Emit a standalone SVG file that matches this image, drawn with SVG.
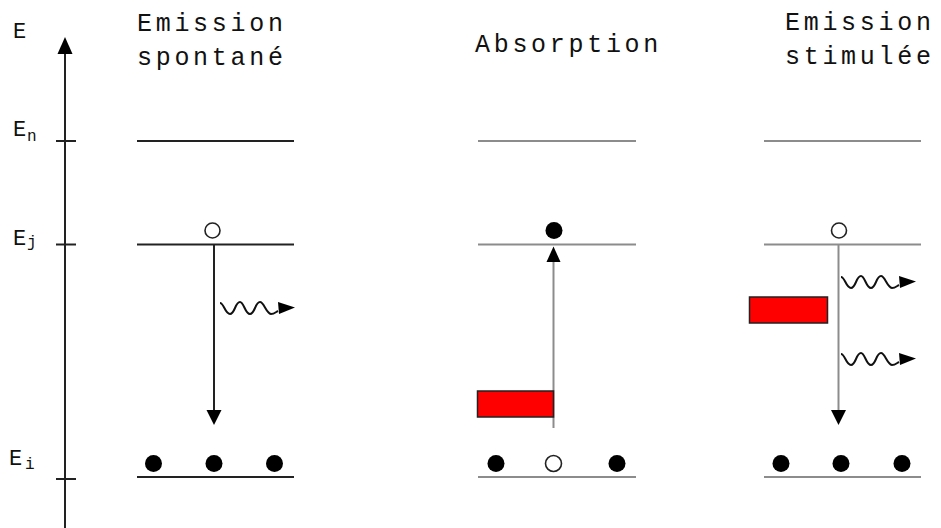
<svg xmlns="http://www.w3.org/2000/svg" width="941" height="528" viewBox="0 0 941 528">
<defs>
<style>
.t{font-family:"Liberation Mono","DejaVu Sans Mono",monospace;font-size:25px;fill:#111;letter-spacing:3.7px}
.lab{font-family:"Liberation Mono","DejaVu Sans Mono",monospace;font-size:22px;fill:#111}
.sub{font-family:"Liberation Mono","DejaVu Sans Mono",monospace;font-size:16px;fill:#111}
.dk{stroke:#222;stroke-width:2;fill:none}
.gr{stroke:#8c8c8c;stroke-width:2;fill:none}
.full{fill:#000}
.open{fill:#fff;stroke:#222;stroke-width:1.6}
.red{fill:#ff0000;stroke:#222;stroke-width:1.5}
.wave{fill:none;stroke:#111;stroke-width:2}
</style>
<g id="photon">
<path class="wave" d="M0,0 c4,0 5,11 10,11 c5,0 5,-12 10,-12 c4,0 5,12 10,12 c5,0 5,-12 10,-12 c4,0 6,11 11,12 c3,0 5,-2 7,-3"/>
<polygon points="58,-1 75,4.5 59,11" fill="#000"/>
</g>
</defs>

<g id="axis">
<line class="dk" x1="65" y1="50" x2="65" y2="528"/>
<polygon points="65,37 57.5,54 72.5,54" fill="#000"/>
<line class="dk" x1="56" y1="141" x2="76" y2="141"/>
<line class="dk" x1="56" y1="244.5" x2="76" y2="244.5"/>
<line class="dk" x1="56" y1="479" x2="76" y2="479"/>
<text class="lab" x="13" y="38">E</text>
<text class="lab" x="13" y="136">E</text><text class="sub" x="27" y="141">n</text>
<text class="lab" x="13" y="245">E</text><text class="sub" x="27" y="247">j</text>
<text class="lab" x="9" y="465">E</text><text class="sub" x="25" y="469">i</text>
</g>

<g id="spontaneous">
<text class="t" x="137" y="31">Emission</text>
<text class="t" x="137" y="65">spontané</text>
<line class="dk" x1="137" y1="141" x2="294" y2="141"/>
<line class="dk" x1="137" y1="244.5" x2="294" y2="244.5"/>
<line class="dk" x1="137" y1="477" x2="294" y2="477"/>
<circle class="open" cx="212.5" cy="230.5" r="7.5"/>
<line class="dk" x1="214" y1="244.5" x2="214" y2="412"/>
<polygon points="206.5,410 221.5,410 214,425" fill="#000"/>
<use href="#photon" x="220" y="303"/>
<circle class="full" cx="153.5" cy="463.5" r="8.5"/>
<circle class="full" cx="214" cy="463.5" r="8.5"/>
<circle class="full" cx="274.5" cy="463.5" r="8.5"/>
</g>

<g id="absorption">
<text class="t" x="475" y="52">Absorption</text>
<line class="gr" x1="478" y1="141" x2="636" y2="141"/>
<line class="gr" x1="478" y1="244.5" x2="636" y2="244.5"/>
<line class="gr" x1="478" y1="477" x2="636" y2="477"/>
<circle class="full" cx="554" cy="230.5" r="8.5"/>
<line class="gr" x1="553.5" y1="260" x2="553.5" y2="428"/>
<polygon points="546.5,262 560.5,262 553.5,246.5" fill="#000"/>
<rect class="red" x="477.5" y="391" width="76" height="26"/>
<circle class="full" cx="496" cy="463.5" r="8.5"/>
<circle class="open" cx="553.5" cy="463.5" r="8"/>
<circle class="full" cx="617" cy="463.5" r="8.5"/>
</g>

<g id="stimulated">
<text class="t" x="785" y="30">Emission</text>
<text class="t" x="785" y="64">stimulée</text>
<line class="gr" x1="764" y1="141" x2="921" y2="141"/>
<line class="gr" x1="764" y1="244.5" x2="921" y2="244.5"/>
<line class="gr" x1="764" y1="477" x2="921" y2="477"/>
<circle class="open" cx="839" cy="230.5" r="7.5"/>
<line class="gr" x1="838.5" y1="244.5" x2="838.5" y2="412"/>
<polygon points="831,410 846,410 838.5,425" fill="#000"/>
<rect class="red" x="749.5" y="297" width="78" height="26"/>
<use href="#photon" x="841" y="277"/>
<use href="#photon" x="841" y="354"/>
<circle class="full" cx="781" cy="463.5" r="8.5"/>
<circle class="full" cx="841" cy="463.5" r="8.5"/>
<circle class="full" cx="902" cy="463.5" r="8.5"/>
</g>
</svg>
